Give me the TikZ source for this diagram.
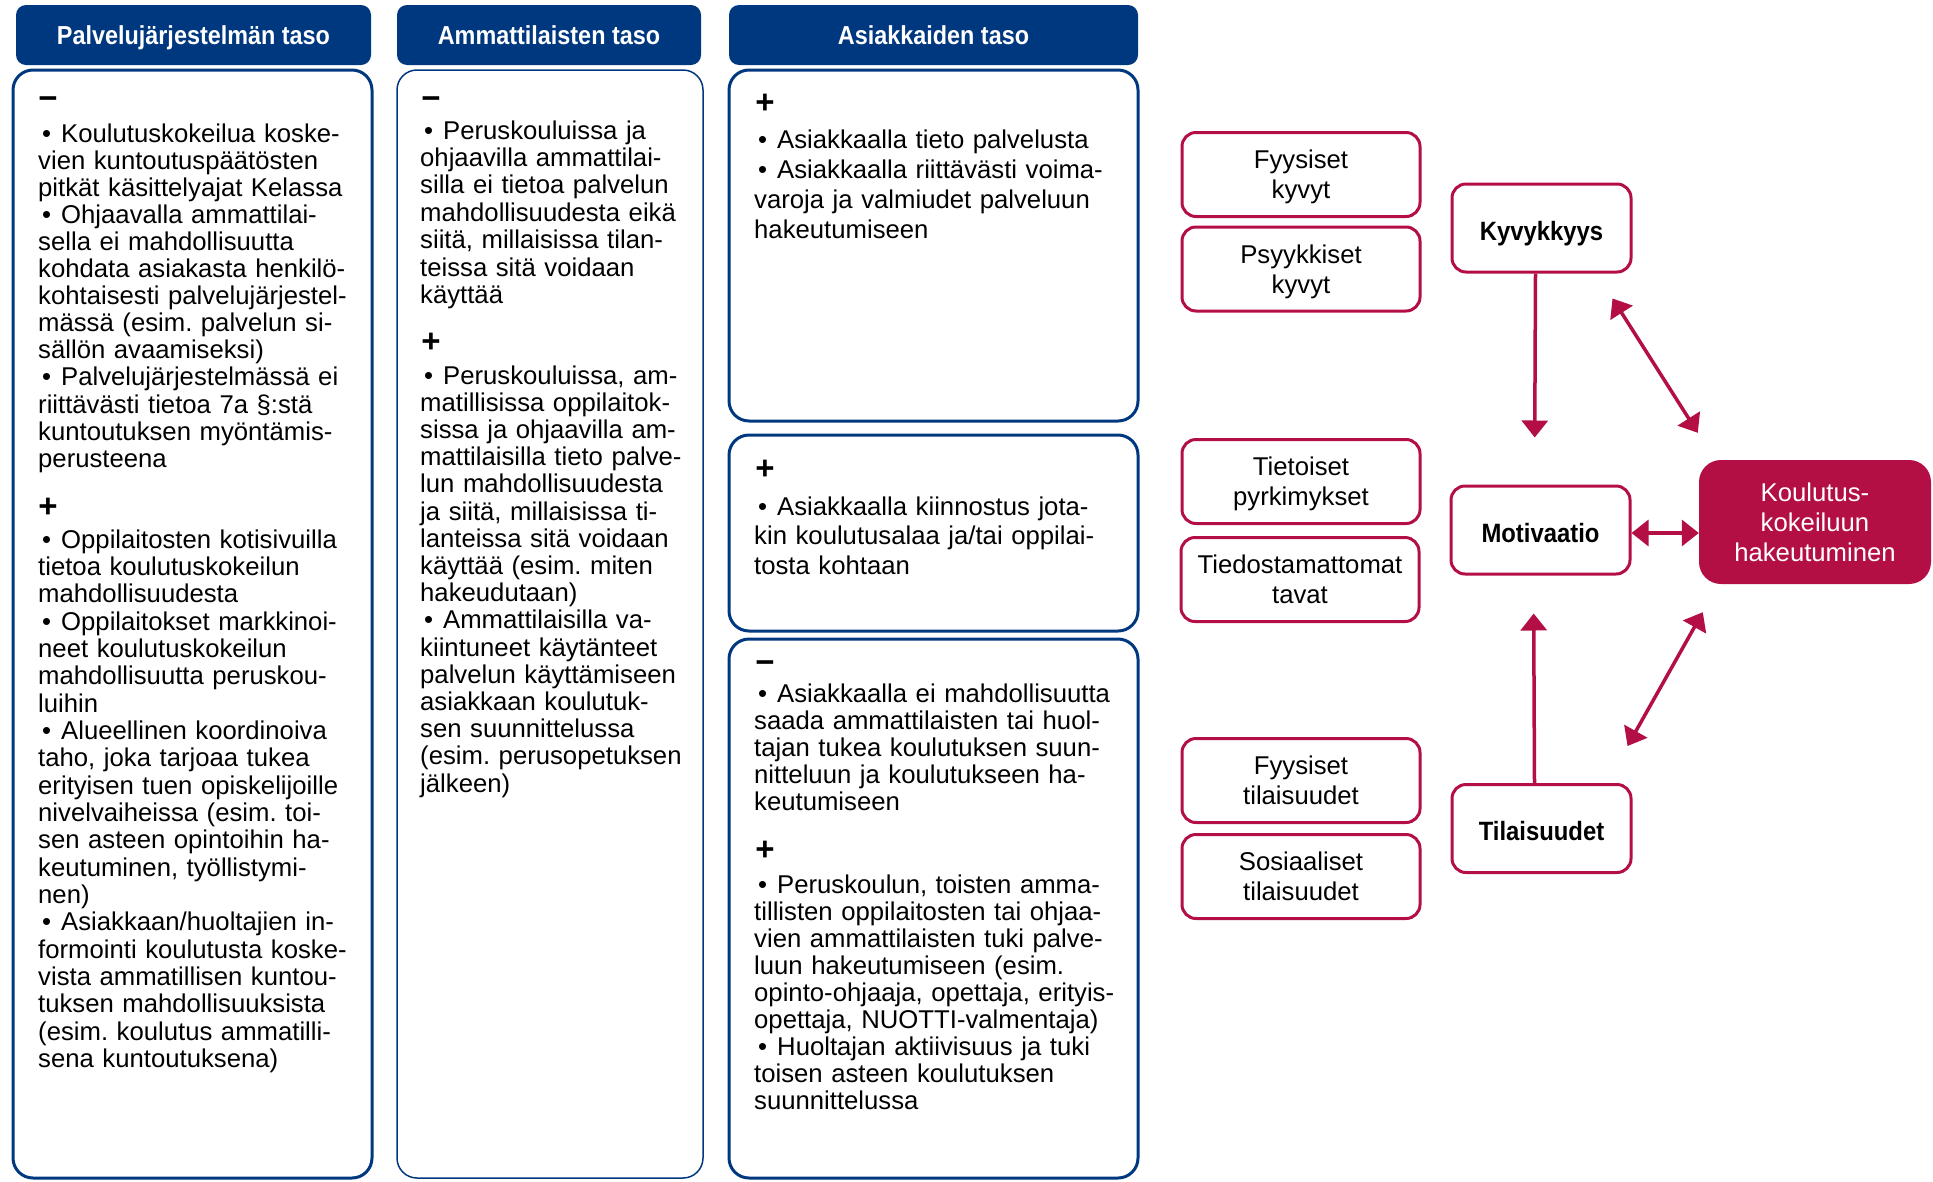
\documentclass[tikz,border=0pt]{standalone}
\usepackage{fontspec}
\setmainfont{Liberation Sans}
\newfontfamily\boldcond[FakeStretch=0.9]{Liberation Sans Bold}
\usetikzlibrary{arrows.meta}
\definecolor{navy}{RGB}{0,56,127}
\definecolor{crim}{RGB}{179,15,69}
\frenchspacing
\newcommand\bitem{\hspace*{4pt}\textbullet\hspace{10pt}}
\newcommand\topst{\rule{0pt}{24pt}}
\newcommand\botst{\rule[-6pt]{0pt}{6pt}}
\tikzset{
  hdr/.style={fill=navy, rounded corners=10pt, inner sep=0pt, minimum height=60pt, text height=24.6pt, text depth=6pt, text=white, font=\boldcond\fontsize{26}{30}\selectfont},
  colbox/.style={draw=navy, line width=3pt, rounded corners=20pt, inner sep=0pt},
  bodytext/.style={anchor=base west, inner sep=0pt, text width=390pt, align=left, font=\fontsize{25.7}{27.1}\selectfont},
  pmsign/.style={inner sep=0pt, font=\bfseries\fontsize{33}{33}\selectfont},
  subbox/.style={draw=crim, line width=3pt, rounded corners=14pt, minimum width=238pt, minimum height=84pt, inner sep=0pt, align=center, font=\fontsize{25.7}{30}\selectfont},
  mainbox/.style={draw=crim, line width=3pt, rounded corners=14pt, minimum width=179pt, minimum height=88pt, inner sep=0pt, text height=26pt, text depth=2pt, font=\boldcond\fontsize{26.5}{30}\selectfont},
  goalbox/.style={fill=crim, rounded corners=22pt, minimum width=232pt, minimum height=124pt, inner sep=0pt, align=center, text=white, font=\fontsize{25.7}{30}\selectfont},
  arr/.style={draw=crim, line width=3.5pt, -{Triangle[width=26pt,length=17pt]}},
  dbl/.style={draw=crim, line width=3.5pt, {Triangle[width=26pt,length=17pt]}-{Triangle[width=26pt,length=17pt]}}
}
\begin{document}
\begin{tikzpicture}[x=1pt,y=-1pt]
\useasboundingbox (0,0) rectangle (1933,1181);
% headers
\node[hdr, minimum width=355pt] (h1) at (193.5,35) {Palvelujärjestelmän taso};
\node[hdr, minimum width=304pt] (h2) at (549,35) {Ammattilaisten taso};
\node[hdr, minimum width=409pt] (h3) at (933.5,35) {Asiakkaiden taso};
% column boxes
\node[colbox, minimum width=359pt, minimum height=1108pt] (b1) at (192.5,624) {};
\node[colbox, line width=1.5pt, minimum width=306pt, minimum height=1108pt] (b2) at (550,624) {};
\node[colbox, minimum width=409pt, minimum height=351pt] (b3a) at (933.5,245.5) {};
\node[colbox, minimum width=409pt, minimum height=196pt] (b3b) at (933.5,533) {};
\node[colbox, minimum width=409pt, minimum height=539pt] (b3c) at (933.5,908.5) {};
% left column
\node[pmsign] (s1m) at (48,100) {\vphantom{+}−};
\node[bodytext] (t1m) at (38,142) {\bitem Koulutuskokeilua koske-\\vien kuntoutuspäätösten\\pitkät käsittelyajat Kelassa\\\bitem Ohjaavalla ammattilai-\\sella ei mahdollisuutta\\kohdata asiakasta henkilö-\\kohtaisesti palvelujärjestel-\\mässä (esim. palvelun si-\\sällön avaamiseksi)\\\bitem Palvelujärjestelmässä ei\\riittävästi tietoa 7a §:stä\\kuntoutuksen myöntämis-\\perusteena};
\node[pmsign] (s1p) at (48,508) {+};
\node[bodytext, font=\fontsize{25.7}{27.35}\selectfont] (t1p) at (38,548) {\bitem Oppilaitosten kotisivuilla\\tietoa koulutuskokeilun\\mahdollisuudesta\\\bitem Oppilaitokset markkinoi-\\neet koulutuskokeilun\\mahdollisuutta peruskou-\\luihin\\\bitem Alueellinen koordinoiva\\taho, joka tarjoaa tukea\\erityisen tuen opiskelijoille\\nivelvaiheissa (esim. toi-\\sen asteen opintoihin ha-\\keutuminen, työllistymi-\\nen)\\\bitem Asiakkaan/huoltajien in-\\formointi koulutusta koske-\\vista ammatillisen kuntou-\\tuksen mahdollisuuksista\\(esim. koulutus ammatilli-\\sena kuntoutuksena)};
% middle column
\node[pmsign] (s2m) at (431,100) {\vphantom{+}−};
\node[bodytext, font=\fontsize{25.7}{27.4}\selectfont] (t2m) at (420,139) {\bitem Peruskouluissa ja\\ohjaavilla ammattilai-\\silla ei tietoa palvelun\\mahdollisuudesta eikä\\siitä, millaisissa tilan-\\teissa sitä voidaan\\käyttää};
\node[pmsign] (s2p) at (431,343) {+};
\node[bodytext, font=\fontsize{25.7}{27.2}\selectfont] (t2p) at (420,384) {\bitem Peruskouluissa, am-\\matillisissa oppilaitok-\\sissa ja ohjaavilla am-\\mattilaisilla tieto palve-\\lun mahdollisuudesta\\ja siitä, millaisissa ti-\\lanteissa sitä voidaan\\käyttää (esim. miten\\hakeudutaan)\\\bitem Ammattilaisilla va-\\kiintuneet käytänteet\\palvelun käyttämiseen\\asiakkaan koulutuk-\\sen suunnittelussa\\(esim. perusopetuksen\\jälkeen)};
% right column
\node[pmsign] (s3a) at (765,104) {+};
\node[bodytext, font=\fontsize{25.7}{30.3}\selectfont] (t3a) at (754,148) {\bitem Asiakkaalla tieto palvelusta\\\bitem Asiakkaalla riittävästi voima-\\varoja ja valmiudet palveluun\\hakeutumiseen};
\node[pmsign] (s3b) at (765,470) {+};
\node[bodytext, font=\fontsize{25.7}{29.6}\selectfont] (t3b) at (754,515) {\bitem Asiakkaalla kiinnostus jota-\\kin koulutusalaa ja/tai oppilai-\\tosta kohtaan};
\node[pmsign] (s3m) at (765,664) {\vphantom{+}−};
\node[bodytext] (t3m) at (754,702) {\bitem Asiakkaalla ei mahdollisuutta\\saada ammattilaisten tai huol-\\tajan tukea koulutuksen suun-\\nitteluun ja koulutukseen ha-\\keutumiseen};
\node[pmsign] (s3p) at (765,851) {+};
\node[bodytext] (t3p) at (754,893) {\bitem Peruskoulun, toisten amma-\\tillisten oppilaitosten tai ohjaa-\\vien ammattilaisten tuki palve-\\luun hakeutumiseen (esim.\\opinto-ohjaaja, opettaja, erityis-\\opettaja, NUOTTI-valmentaja)\\\bitem Huoltajan aktiivisuus ja tuki\\toisen asteen koulutuksen\\suunnittelussa};
% right diagram
\node[subbox] (fk) at (1301,174.5) {\topst Fyysiset\\kyvyt\botst};
\node[subbox] (pk) at (1301,269) {\topst Psyykkiset\\kyvyt\botst};
\node[subbox] (tp) at (1301,481.5) {\topst Tietoiset\\pyrkimykset\botst};
\node[subbox] (tt) at (1300,579.5) {\topst Tiedostamattomat\\tavat\botst};
\node[subbox] (ft) at (1301,780.5) {\topst Fyysiset\\tilaisuudet\botst};
\node[subbox] (st) at (1301,876.5) {\topst Sosiaaliset\\tilaisuudet\botst};
\node[mainbox] (kyv) at (1541.5,228) {Kyvykkyys};
\node[mainbox] (mot) at (1540.5,530) {Motivaatio};
\node[mainbox] (til) at (1541.5,828.5) {Tilaisuudet};
\node[goalbox] (kou) at (1815,522) {Koulutus-\\kokeiluun\\hakeutuminen};
% connectors
\draw[arr, shorten >=47pt] ([xshift=-6pt]kyv.south) -- ([xshift=-6pt]mot.north);
\draw[arr, shorten >=38pt] ([xshift=-7pt]til.north) -- ([xshift=-7pt]mot.south);
\draw[dbl] ([yshift=-3pt]mot.east) -- ([yshift=-3pt]mot.east -| kou.west);
\draw[dbl] ([shift={(-20,25)}]kyv.south east) -- ([shift={(-1,-27)}]kou.north west);
\draw[dbl] ([shift={(-5,-37)}]til.north east) -- ([shift={(4,28)}]kou.south west);
\end{tikzpicture}
\end{document}
